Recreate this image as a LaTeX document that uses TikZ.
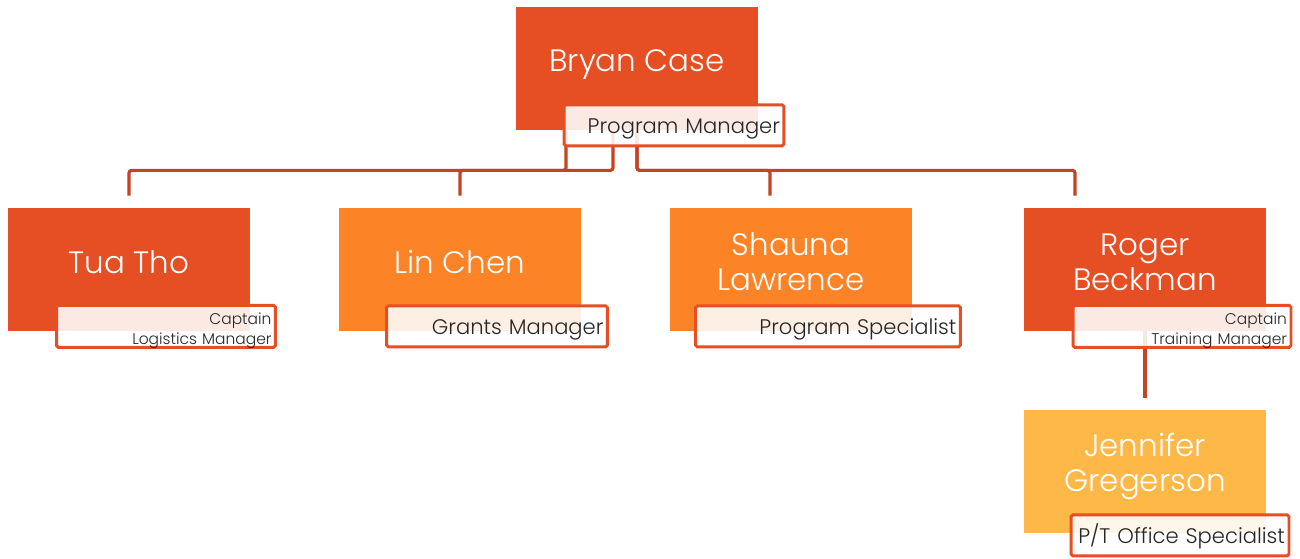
\documentclass[tikz,border=0pt]{standalone}
\usepackage{fontspec}
\setmainfont{Poppins Light}
\usetikzlibrary{positioning}

\definecolor{chiefred}{RGB}{230,78,36}
\definecolor{teamorange}{RGB}{253,131,39}
\definecolor{staffgold}{RGB}{253,184,72}
\definecolor{linkred}{RGB}{197,67,33}
\definecolor{titletext}{RGB}{38,38,38}

\begin{document}
\begin{tikzpicture}[
  x=0.02cm, y=-0.02cm,
  person/.style={rectangle, fill=#1, minimum width=4.84cm, minimum height=2.46cm,
                 inner sep=0pt},
  person/.default={chiefred},
  fullname/.style={text=white, align=center, font=\fontsize{17.6}{20}\selectfont},
  title/.style={rectangle, draw=chiefred, line width=1.7pt, rounded corners=1pt,
                fill=white, fill opacity=0.88, text opacity=1, text=titletext,
                text width=#1, align=right, inner xsep=0.08cm, inner ysep=0pt,
                text height=0.57cm, text depth=0.25cm,
                font=\fontsize{12}{13}\selectfont},
  small/.style={text height=0.38cm, text depth=0.46cm,
                font=\fontsize{8.8}{11.3}\selectfont},
  link/.style={draw=linkred, line width=1.8pt, rounded corners=1.5pt,
               shorten >=0.24cm}
]
  \useasboundingbox (0,0) rectangle (1300,558);

  % Boxes
  \node[person] (bryan) at (637,68.5) {};
  \node[person] (tua) at (129,269.5) {};
  \node[person=teamorange] (lin) at (460,269.5) {};
  \node[person=teamorange] (shauna) at (791,269.5) {};
  \node[person] (roger) at (1145,269.5) {};
  \node[person=staffgold] (jennifer) at (1145,471.5) {};

  % Names
  \node[fullname] (bryan-name) at ([yshift=0.08cm]bryan.center) {Bryan Case};
  \node[fullname] (tua-name) at ([yshift=0.15cm]tua.center) {Tua Tho};
  \node[fullname] (lin-name) at ([yshift=0.15cm]lin.center) {Lin Chen};
  \node[fullname] (shauna-name) at ([yshift=0.15cm]shauna.center) {Shauna\\Lawrence};
  \node[fullname] (roger-name) at ([yshift=0.15cm]roger.center) {Roger\\Beckman};
  \node[fullname] (jennifer-name) at ([yshift=0.11cm]jennifer.center) {Jennifer\\Gregerson};

  % Connectors
  \draw[link] ([xshift=-1.42cm]bryan.south) -- ++(0,40) -| (tua.north);
  \draw[link] ([xshift=-0.48cm]bryan.south) -- ++(0,40) -| (lin.north);
  \draw[link] (bryan.south) -- ++(0,40) -| ([xshift=-0.42cm]shauna.north);
  \draw[link] (bryan.south) -- ++(0,40) -| ([xshift=-1.4cm]roger.north);
  \draw[link] (roger.south) -- (jennifer.north);

  % Titles
  \node[title=4.24cm] (bryan-title) at ([xshift=0.74cm, yshift=0.1cm]bryan.south) {Program Manager};
  \node[title=4.22cm, small] (tua-title) at ([xshift=0.74cm, yshift=0.1cm]tua.south) {Captain\\Logistics Manager};
  \node[title=4.26cm] (lin-title) at ([xshift=0.74cm, yshift=0.1cm]lin.south) {Grants Manager};
  \node[title=5.14cm] (shauna-title) at ([xshift=0.74cm, yshift=0.1cm]shauna.south) {Program Specialist};
  \node[title=4.2cm, small] (roger-title) at ([xshift=0.74cm, yshift=0.1cm]roger.south) {Captain\\Training Manager};
  \node[title=4.2cm] (jennifer-title) at ([xshift=0.7cm, yshift=-0.04cm]jennifer.south) {P/T Office Specialist};
\end{tikzpicture}
\end{document}
